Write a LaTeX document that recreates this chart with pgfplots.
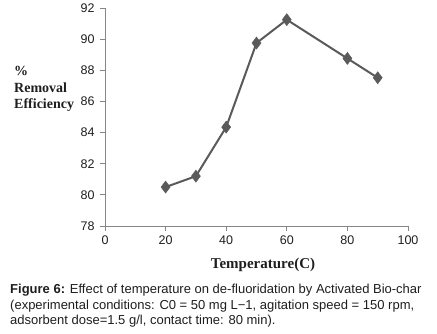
\documentclass[border=0pt]{standalone}
\usepackage{pgfplots}
\pgfplotsset{compat=1.18}
\usepackage{fontspec}
\setmainfont{Liberation Sans}
\newfontfamily\serifbold[BoldFont={Liberation Serif Bold}]{Liberation Serif}
\definecolor{axgray}{RGB}{134,134,134}
\definecolor{linegray}{RGB}{90,90,90}
\definecolor{txt}{RGB}{30,30,30}
\begin{document}
\begin{tikzpicture}[x=1pt,y=1pt]
\useasboundingbox (0,0) rectangle (437,334);
\begin{axis}[
  at={(105pt,108pt)}, anchor=south west,
  scale only axis, width=303pt, height=218pt,
  xmin=0, xmax=100, ymin=78, ymax=92,
  xtick={0,20,...,100}, ytick={78,80,...,92},
  axis x line=bottom, axis y line=left,
  axis line style={axgray, line width=0.8pt, -},
  tick style={axgray, line width=0.8pt},
  xtick pos=bottom, ytick pos=left,
  tick align=outside, major tick length=5pt,
  x tick label style={font=\fontsize{12.5}{14}\selectfont, text=txt, yshift=-1pt},
  y tick label style={font=\fontsize{12.5}{14}\selectfont, text=txt, xshift=-2pt},
  /pgf/number format/assume math mode=true,
  clip=false,
]
\addplot[linegray, line width=2pt, mark=diamond*, mark size=6pt,
  mark options={fill=linegray, draw=linegray, line width=0.5pt}]
coordinates {(20,80.5) (30,81.2) (40,84.35) (50,89.75) (60,91.25) (80,88.76) (90,87.52)};
\end{axis}
\node[anchor=west, align=left, font=\serifbold\bfseries\fontsize{14}{16.5}\selectfont, text=txt, inner sep=0pt] at (14,245) {\%\\Removal\\Efficiency};
\node[font=\serifbold\bfseries\fontsize{15}{17}\selectfont, text=txt] at (263,69) {Temperature(C)};
\node[anchor=north west, align=left, font=\fontsize{13}{15.5}\selectfont, text=txt, inner sep=0pt] at (10,50) {\textbf{Figure 6:} Effect of temperature on de-fluoridation by Activated Bio-char\\(experimental conditions: C0 = 50 mg L−1, agitation speed = 150 rpm,\\adsorbent dose=1.5 g/l, contact time: 80 min).};
\end{tikzpicture}
\end{document}
